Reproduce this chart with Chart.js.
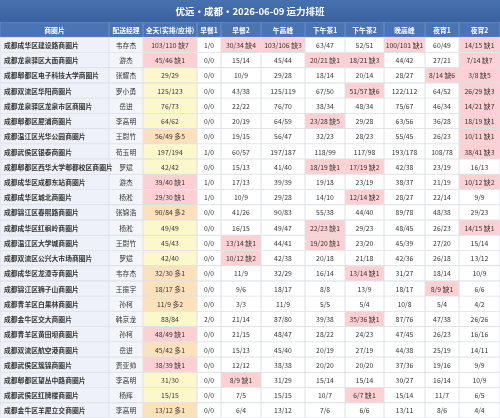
<!DOCTYPE html>
<html><head><meta charset="utf-8">
<script src="https://cdn.jsdelivr.net/npm/chart.js@4/dist/chart.umd.min.js"></script>
<style>html,body{margin:0;padding:0;background:#fff}#w{width:500px;height:418px}</style>
</head><body><div id="w"><canvas id="c"></canvas></div>
<script>
const title = "优远·成都·2026-06-09 运力排班";
const headers = ["商圈片","配送经理","全天(实排/应排)","早餐1","早餐2","午高峰","下午茶1","下午茶2","晚高峰","夜宵1","夜宵2"];
const areas = ["成都成华区建设路商圈片","成都龙泉驿区大面商圈片","成都郫都区电子科技大学商圈片","成都双流区华阳商圈片","成都龙泉驿区龙泉市区商圈片","成都郫都区犀浦商圈片","成都温江区光华公园商圈片","成都武侯区银泰商圈片","成都郫都区西华大学郫都校区商圈片","成都成华区成都东站商圈片","成都成华区城北商圈片","成都锦江区春熙路商圈片","成都成华区红枫岭商圈片","成都温江区大学城商圈片","成都双流区公兴大市场商圈片","成都成华区龙潭寺商圈片","成都锦江区狮子山商圈片","成都青羊区白果林商圈片","成都金牛区交大商圈片","成都青羊区黄田坝商圈片","成都双流区航空港商圈片","成都武侯区簇锦商圈片","成都郫都区望丛中路商圈片","成都武侯区红牌楼商圈片","成都金牛区羊犀立交商圈片"];
const managers = ["韦存杰","游杰","张耀杰","罗小勇","岳进","李高明","王尉竹","苟玉明","罗斌","游杰","杨淞","张锦浩","杨淞","王尉竹","罗斌","韦存杰","王振宇","孙柯","韩京龙","孙柯","岳进","贾亚帅","李高明","杨辉","李高明"];
const allDay = ["103/110 缺7","45/46 缺1","29/29","125/123","76/73","64/62","56/49 多5","197/194","42/42","39/40 缺1","29/30 缺1","90/84 多2","49/49","45/43","42/40","32/30 多1","18/17 多1","11/9 多2","88/84","48/49 缺1","45/42 多1","38/39 缺1","31/30","15/15","13/12 多1"];
const breakfast1 = ["1/0","0/0","0/0","0/0","0/0","0/0","0/0","1/0","0/0","1/0","1/0","0/0","0/0","0/0","0/0","0/0","0/0","0/0","2/0","0/0","0/0","0/0","0/0","0/0","0/0"];
const breakfast2 = ["30/34 缺4","15/14","10/9","43/38","22/22","20/19","19/15","60/57","15/13","17/13","10/9","41/26","16/15","13/14 缺1","10/12 缺2","11/9","9/6","3/3","21/14","21/15","15/13","12/12","8/9 缺1","7/5","6/4"];
const lunch = ["103/106 缺3","45/44","29/28","125/119","76/70","64/59","56/47","197/187","41/40","39/39","29/28","90/83","49/47","44/41","42/38","32/29","18/17","11/9","87/80","48/47","45/40","38/38","31/29","15/15","13/12"];
const tea1 = ["63/47","20/21 缺1","18/14","67/50","38/34","23/28 缺5","32/23","118/99","18/19 缺1","19/18","14/10","55/38","22/23 缺1","19/20 缺1","20/18","16/14","8/8","5/5","39/38","28/22","20/19","20/20","15/14","10/7","7/6"];
const tea2 = ["52/51","18/21 缺3","20/14","51/57 缺6","48/34","29/28","28/23","117/98","17/19 缺2","23/19","12/14 缺2","44/40","29/23","23/20","21/18","13/14 缺1","13/9","5/4","35/36 缺1","24/23","27/19","20/20","15/14","6/7 缺1","6/6"];
const dinner = ["100/101 缺1","44/42","28/27","122/112","75/67","63/56","55/45","193/178","42/38","38/37","28/27","89/78","48/45","45/39","42/36","31/27","18/17","10/8","87/76","47/45","44/38","37/36","30/27","15/14","13/11"];
const night1 = ["60/49","27/21","8/14 缺6","64/52","46/34","36/28","26/23","108/78","23/19","21/19","22/14","48/38","26/23","27/20","26/18","18/14","8/9 缺1","5/4","47/38","26/23","25/19","19/16","16/14","11/7","8/6"];
const night2 = ["14/15 缺1","7/14 缺7","3/8 缺5","26/29 缺3","14/21 缺7","18/19 缺1","10/11 缺1","38/41 缺3","16/13","10/12 缺2","9/9","29/23","14/15 缺1","15/14","13/12","10/9","6/6","4/2","26/26","16/16","14/11","9/9","10/9","6/5","4/4"];

const columns = [areas, managers, allDay, breakfast1, breakfast2, lunch, tea1, tea2, dinner, night1, night2];
const colWidths = [109,34,54,24,40,44,40,39,41,34,41];
const rowLabels = ["header"].concat(areas);

function cellColor(ci, ri){
  if (ri === 0) return "#4a74b3";
  const t = columns[ci][ri-1];
  if (ci === 0) return "#eef2f8";
  if (ci === 1) return "#f2f5f9";
  if (t.includes("缺")) return "#fdd0d3";
  if (t.includes("多")) return "#fde1bb";
  if (ci === 2) return "#fdf8cc";
  return "#ffffff";
}

const datasets = colWidths.map((w, ci) => ({
  data: rowLabels.map(() => w),
  backgroundColor: rowLabels.map((_, ri) => cellColor(ci, ri)),
  borderColor: rowLabels.map((_, ri) => ri === 0 ? "#6f91c4" : "#dde1e7"),
  borderWidth: 0.8,
  borderSkipped: false,
  categoryPercentage: 1, barPercentage: 1
}));

const tablePlugin = {
  id: "table",
  beforeDraw(chart){
    const ctx = chart.ctx;
    const g = ctx.createLinearGradient(0,0,0,22);
    g.addColorStop(0,"#4670ae"); g.addColorStop(1,"#3a62a0");
    ctx.save(); ctx.fillStyle = g; ctx.fillRect(0,0,500,22);
    ctx.fillStyle = "#fff"; ctx.font = "bold 9.5px 'Noto Sans CJK SC'";
    ctx.textAlign = "center"; ctx.textBaseline = "middle";
    ctx.fillText(title, 250, 11.5); ctx.restore();
  },
  afterDatasetsDraw(chart){
    const ctx = chart.ctx;
    ctx.save(); ctx.textBaseline = "middle";
    chart.data.datasets.forEach((ds, ci) => {
      chart.getDatasetMeta(ci).data.forEach((el, ri) => {
        const left = Math.min(el.x, el.base), right = Math.max(el.x, el.base);
        const txt = ri === 0 ? headers[ci] : columns[ci][ri-1];
        if (ri === 0) { ctx.fillStyle = "#fff"; ctx.font = "bold 6.8px 'Noto Sans CJK SC'"; }
        else { ctx.fillStyle = "#333"; ctx.font = (ci === 0 ? "bold " : "") + "6.8px 'Noto Sans CJK SC'"; }
        if (ci === 0 && ri > 0) { ctx.textAlign = "left"; ctx.fillText(txt, left + 4, el.y + 0.5); }
        else { ctx.textAlign = "center"; ctx.fillText(txt, (left+right)/2, el.y + 0.5); }
      });
    });
    ctx.restore();
  }
};

new Chart(document.getElementById("c"), {
  type: "bar",
  data: { labels: rowLabels, datasets },
  options: {
    indexAxis: "y", responsive: true, maintainAspectRatio: false, animation: false,
    layout: { padding: { top: 22, left: 0, right: 0, bottom: 0 } },
    plugins: { legend: { display: false }, tooltip: { enabled: false } },
    scales: {
      x: { stacked: true, min: 0, max: 500, display: false },
      y: { stacked: true, display: false }
    }
  },
  plugins: [tablePlugin]
});
</script></body></html>
